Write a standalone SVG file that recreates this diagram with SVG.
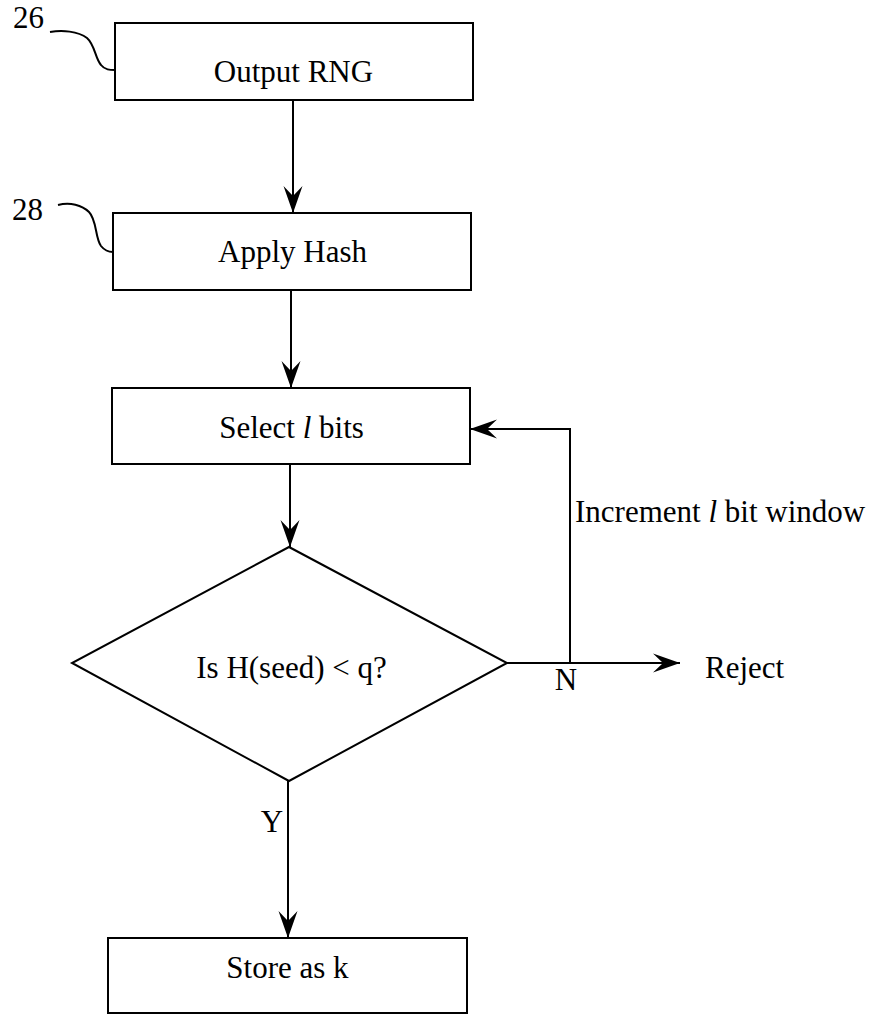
<svg xmlns="http://www.w3.org/2000/svg" width="876" height="1016" viewBox="0 0 876 1016">
<style>
.box{fill:#fff;stroke:#000;stroke-width:2}
.ln{fill:none;stroke:#000;stroke-width:2}
.t{font-family:"Liberation Serif","Times New Roman",serif;font-size:31px;fill:#000}
.m{text-anchor:middle}
</style>
<defs>
<marker id="arr" markerUnits="userSpaceOnUse" markerWidth="30" markerHeight="22" viewBox="-28 -11 30 22" refX="0" refY="0" orient="auto">
<path d="M0,0 L-27,-9.5 L-17,0 L-27,9.5 Z" fill="#000"/>
</marker>
</defs>
<rect width="876" height="1016" fill="#fff"/>
<g id="connectors">
<line class="ln" x1="293" y1="100" x2="293" y2="213" marker-end="url(#arr)"/>
<line class="ln" x1="291" y1="290" x2="291" y2="388" marker-end="url(#arr)"/>
<line class="ln" x1="290" y1="464" x2="290" y2="547" marker-end="url(#arr)"/>
<line class="ln" x1="288" y1="781" x2="288" y2="938" marker-end="url(#arr)"/>
<polyline class="ln" points="570,663 570,429 470,429" marker-end="url(#arr)"/>
<line class="ln" x1="506" y1="663" x2="680" y2="663" marker-end="url(#arr)"/>
<text class="t" x="575" y="522">Increment <tspan font-style="italic">l</tspan> bit window</text>
<text class="t m" x="566" y="690">N</text>
<text class="t m" x="272" y="832">Y</text>
</g>
<g id="ref26">
<text class="t" x="13" y="28">26</text>
<path class="ln" d="M50,32 C62,30 78,31 87,38 C95,45 95,58 101,65 C105,70 110,70 115,70"/>
</g>
<g id="ref28">
<text class="t" x="12" y="220">28</text>
<path class="ln" d="M58,205 C70,202 82,205 89,212 C97,220 95,238 101,246 C105,251 109,252 113,252"/>
</g>
<g id="output-rng">
<rect class="box" x="115" y="23" width="358" height="77"/>
<text class="t m" x="293.5" y="82">Output RNG</text>
</g>
<g id="apply-hash">
<rect class="box" x="113" y="213" width="358" height="77"/>
<text class="t m" x="292.5" y="262">Apply Hash</text>
</g>
<g id="select-bits">
<rect class="box" x="112" y="388" width="358" height="76"/>
<text class="t m" x="291.5" y="438">Select <tspan font-style="italic">l</tspan> bits</text>
</g>
<g id="decision">
<polygon class="box" points="289,547 507,663 289,781 72,663"/>
<text class="t m" x="291.5" y="678">Is H(seed) &lt; q?</text>
</g>
<g id="reject">
<text class="t" x="705" y="678">Reject</text>
</g>
<g id="store-k">
<rect class="box" x="108" y="938" width="359" height="75"/>
<text class="t m" x="287.5" y="978">Store as k</text>
</g>
</svg>
